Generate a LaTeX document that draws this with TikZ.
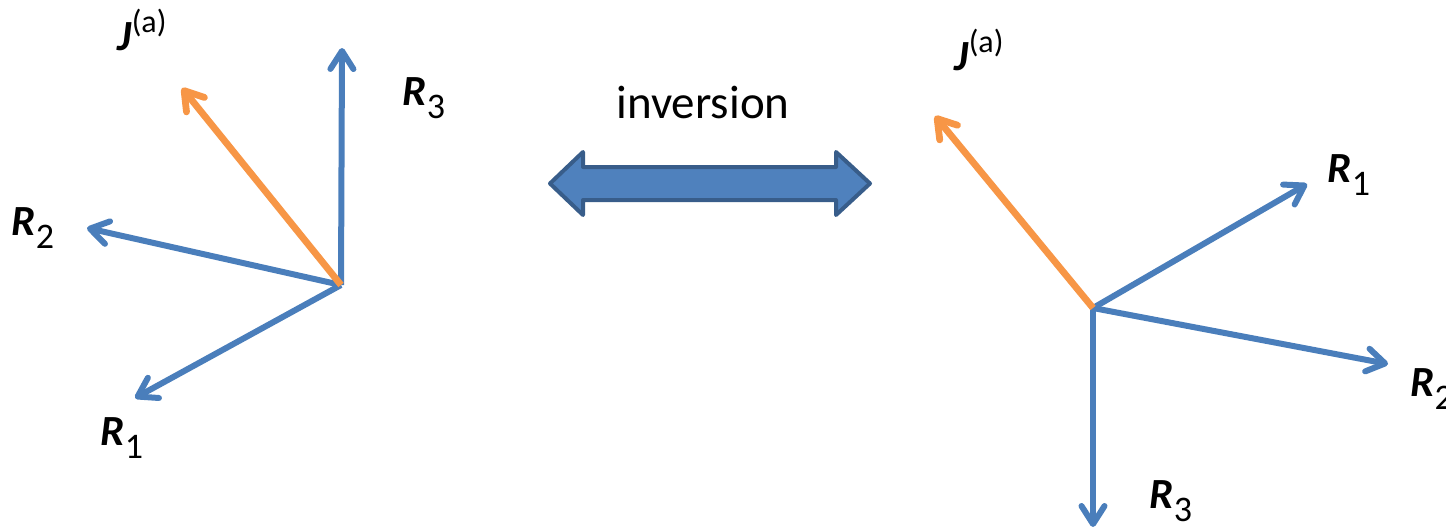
\documentclass[tikz,border=0pt]{standalone}
\usepackage{fontspec}
\setmainfont{Carlito}
\usetikzlibrary{arrows.meta}
\definecolor{axisblue}{HTML}{4A7EBB}
\definecolor{spinorange}{HTML}{F79646}
\definecolor{arrowfill}{HTML}{4F81BD}
\definecolor{arrowline}{HTML}{385D8A}
\newcommand{\Rvec}[1]{{\bfseries\itshape R}\raisebox{-0.3em}{\fontsize{18}{21}\selectfont #1}}
\newcommand{\Jvec}{{\bfseries\itshape J}\raisebox{0.42em}{\fontsize{16}{19}\selectfont (a)}}
\tikzset{lbl/.style={font=\fontsize{21.5}{25}\selectfont, inner sep=0pt}}

\begin{document}
\begin{tikzpicture}[x=0.5pt,y=-0.5pt,
    axis/.style={axisblue,line width=3pt,-{Straight Barb[length=9pt,width=11.5pt,round]}},
    spin/.style={spinorange,line width=3.4pt,-{Straight Barb[length=9pt,width=11.5pt,round]}}]
    \useasboundingbox (0,0) rectangle (1446,530);
    % original
    \coordinate (O) at (341,285);
    \coordinate (a1) at (135,398);
    \coordinate (a2) at (87,228);
    \coordinate (a3) at (342,48);
    \coordinate (j) at (182,88);
    \draw[axis] (O) -- (a1);
    \draw[axis] (O) -- (a2);
    \draw[axis] (O) -- (a3);
    \draw[spin] (O) -- (j);
    \node[lbl] (la1) at (122,438) {\Rvec{1}};
    \node[lbl] (la2) at (33,228) {\Rvec{2}};
    \node[lbl] (la3) at (424,98) {\Rvec{3}};
    \node[lbl] (lj) at (142,30) {\Jvec};
    % inverted
    \coordinate (O') at (1093,308);
    \coordinate (b1) at (1307,184);
    \coordinate (b2) at (1388,364);
    \coordinate (b3) at (1093,527);
    \coordinate (j') at (935,116);
    \draw[axis] (O') -- (b1);
    \draw[axis] (O') -- (b2);
    \draw[axis] (O') -- (b3);
    \draw[spin] (O') -- (j');
    \node[lbl] (lb1) at (1349,175) {\Rvec{1}};
    \node[lbl,anchor=west] (lb2) at (1410,389) {\Rvec{2}};
    \node[lbl] (lb3) at (1171,501) {\Rvec{3}};
    \node[lbl] (lj') at (979,50) {\Jvec};
    % double arrow
    \draw[fill=arrowfill,draw=arrowline,line width=2pt,line join=round]
        (550,183.5) -- (583,152) -- (583,167) -- (836,167) -- (836,152) -- (870,183.5)
        -- (836,215) -- (836,200) -- (583,200) -- (583,215) -- cycle;
    \node[font=\fontsize{23.5}{28}\selectfont, inner sep=0pt] (inv) at (703,103) {inversion};
\end{tikzpicture}
\end{document}
